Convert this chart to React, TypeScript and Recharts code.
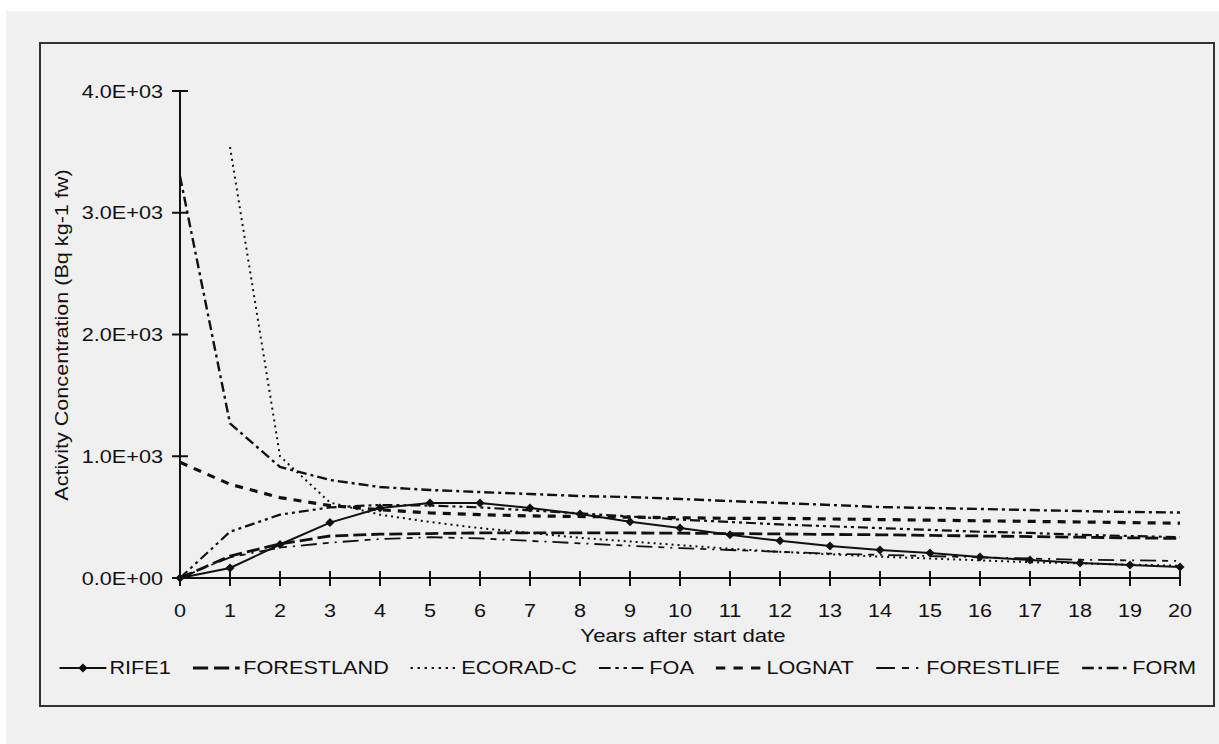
import React from 'react';
import { LineChart, Line, XAxis, YAxis } from 'recharts';

// years after start date
const years = [0, 1, 2, 3, 4, 5, 6, 7, 8, 9, 10, 11, 12, 13, 14, 15, 16, 17, 18, 19, 20];

// activity concentration, Bq kg-1 fw
const rife1 = [0, 82, 275, 455, 575, 616, 616, 575, 526, 462, 410, 355, 305, 263, 230, 205, 172, 148, 123, 107, 90];
const forestland = [0, 180, 280, 345, 360, 365, 370, 370, 370, 370, 368, 365, 362, 358, 355, 350, 345, 340, 335, 330, 325];
const ecoradC = [null, 3540, 1000, 620, 520, 460, 410, 370, 330, 300, 270, 240, 215, 195, 175, 160, 145, 130, 120, 110, 100];
const foa = [0, 380, 520, 580, 600, 595, 580, 555, 530, 505, 480, 460, 440, 425, 410, 395, 380, 370, 355, 345, 335];
const lognat = [950, 770, 660, 595, 560, 535, 520, 510, 505, 500, 495, 490, 490, 485, 480, 475, 470, 465, 460, 455, 450];
const forestlife = [0, 170, 250, 290, 320, 335, 325, 305, 285, 265, 245, 230, 215, 200, 190, 180, 170, 160, 150, 145, 140];
const form = [3300, 1270, 912, 805, 747, 723, 706, 690, 673, 665, 649, 632, 616, 600, 583, 575, 567, 558, 550, 542, 538];

const yTicks = [0, 1000, 2000, 3000, 4000];

const data = years.map((year, i) => ({
  year,
  RIFE1: rife1[i],
  FORESTLAND: forestland[i],
  'ECORAD-C': ecoradC[i],
  FOA: foa[i],
  LOGNAT: lognat[i],
  FORESTLIFE: forestlife[i],
  FORM: form[i],
}));

const INK = '#111';
const FONT = '"Liberation Sans", Arial, sans-serif';
const STRETCH = 1.17; // the source text is drawn a bit wide

const series = [
  { key: 'RIFE1', dash: undefined, width: 2, marker: true },
  { key: 'FORESTLAND', dash: '13 5', width: 2.8 },
  { key: 'ECORAD-C', dash: '2 4', width: 2 },
  { key: 'FOA', dash: '10 4 3 4 3 4', width: 2.2 },
  { key: 'LOGNAT', dash: '8 7', width: 3.2 },
  { key: 'FORESTLIFE', dash: '16 6 6 6 2 6', width: 1.8 },
  { key: 'FORM', dash: '10 4 3 4', width: 2.4 },
];

const fmtExp = (v: number) => {
  const [m, e] = v.toExponential(1).split('e');
  const sign = e[0] === '-' ? '-' : '+';
  const digits = e.replace(/[+-]/, '').padStart(2, '0');
  return `${m}E${sign}${digits}`;
};

const TICK = 8;
const Y_MARGIN = 9;
const X_MARGIN = 4;

const YTick = (props: any) => {
  const { x, y, payload } = props;
  const ax = x + TICK + Y_MARGIN;
  return (
    <g>
      <line x1={ax - TICK} x2={ax + TICK} y1={y} y2={y} stroke={INK} strokeWidth={2} />
      <text
        transform={`translate(${x},${y}) scale(${STRETCH},1)`}
        dy="0.36em"
        textAnchor="end"
        fill={INK}
        fontSize={18.5}
        fontFamily={FONT}
      >
        {fmtExp(payload.value)}
      </text>
    </g>
  );
};

const XTick = (props: any) => {
  const { x, y, payload } = props;
  const ay = y - TICK - X_MARGIN;
  return (
    <g>
      <line x1={x} x2={x} y1={ay - 7} y2={ay + TICK} stroke={INK} strokeWidth={2} />
      <text
        transform={`translate(${x},${ay + 32}) scale(${STRETCH},1)`}
        dy="0.36em"
        textAnchor="middle"
        fill={INK}
        fontSize={18.5}
        fontFamily={FONT}
      >
        {payload.value}
      </text>
    </g>
  );
};

const Diamond = (props: any) => {
  const { cx, cy, index } = props;
  if (cx == null || cy == null) return <g key={index} />;
  return <path key={index} d={`M${cx},${cy - 4.5}L${cx + 4.5},${cy}L${cx},${cy + 4.5}L${cx - 4.5},${cy}Z`} fill={INK} />;
};

const LegendIcon = ({ dash, width, marker }: any) => (
  <svg width={42} height={14} style={{ marginRight: 2 }}>
    <line x1={1} x2={41} y1={7} y2={7} stroke={INK} strokeWidth={width} strokeDasharray={dash} />
    {marker && <path d="M21,2.5L25,7L21,11.5L17,7Z" fill={INK} />}
  </svg>
);

export default function App() {
  return (
    <div style={{ position: 'absolute', left: 0, top: 0, width: 1219, height: 744, background: '#fff', fontFamily: FONT }}>
      <div style={{ position: 'absolute', left: 6, top: 11, right: 0, bottom: 0, background: '#f0f0f0' }} />
      <div
        style={{
          position: 'absolute',
          left: 39,
          top: 42,
          width: 1172,
          height: 661,
          border: '2px solid #333',
        }}
      />
      <div style={{ position: 'absolute', left: 0, top: 0 }}>
        <LineChart width={1219} height={744} data={data} margin={{ top: 91, right: 39, bottom: 136, left: 50 }}>
          <XAxis
            dataKey="year"
            type="number"
            domain={[0, 20]}
            ticks={years}
            interval={0}
            height={30}
            tickSize={TICK}
            tickMargin={X_MARGIN}
            tickLine={false}
            axisLine={{ stroke: INK, strokeWidth: 2 }}
            tick={<XTick />}
          />
          <XAxis
            xAxisId="top"
            orientation="top"
            dataKey="year"
            type="number"
            domain={[0, 20]}
            height={0}
            tick={false}
            tickLine={false}
            axisLine={{ stroke: INK, strokeWidth: 2 }}
          />
          <YAxis
            type="number"
            domain={[0, 4000]}
            ticks={yTicks}
            interval={0}
            width={130}
            tickSize={TICK}
            tickMargin={Y_MARGIN}
            tickLine={false}
            axisLine={{ stroke: INK, strokeWidth: 2 }}
            tick={<YTick />}
          />
          <YAxis
            yAxisId="right"
            orientation="right"
            type="number"
            domain={[0, 4000]}
            width={0}
            tick={false}
            tickLine={false}
            axisLine={{ stroke: INK, strokeWidth: 2 }}
          />
          {series.map((s) => (
            <Line
              key={s.key}
              type="linear"
              dataKey={s.key}
              stroke={INK}
              strokeWidth={s.width}
              strokeDasharray={s.dash}
              dot={s.marker ? <Diamond /> : false}
              activeDot={false}
              isAnimationActive={false}
            />
          ))}
        </LineChart>
      </div>
      <div
        style={{
          position: 'absolute',
          left: 62,
          top: 335,
          transform: `translate(-50%, -50%) rotate(-90deg) scaleX(${STRETCH + 0.03})`,
          whiteSpace: 'nowrap',
          fontSize: 18,
          color: INK,
        }}
      >
        Activity Concentration (Bq kg-1 fw)
      </div>
      <div
        style={{
          position: 'absolute',
          left: 683,
          top: 636,
          transform: `translate(-50%, -50%) scaleX(${STRETCH + 0.03})`,
          whiteSpace: 'nowrap',
          fontSize: 18.5,
          color: INK,
        }}
      >
        Years after start date
      </div>
      <div
        style={{
          position: 'absolute',
          left: 41,
          width: 1172,
          top: 656,
          height: 24,
          display: 'flex',
          justifyContent: 'center',
          alignItems: 'center',
          fontSize: 18.5,
          color: INK,
          transform: `scaleX(${STRETCH})`,
          transformOrigin: '586px 12px',
        }}
      >
        {series.map((s, i) => (
          <div
            key={s.key}
            style={{ display: 'flex', alignItems: 'center', marginRight: i === series.length - 1 ? 0 : 18 }}
          >
            <LegendIcon dash={s.dash} width={s.width} marker={s.marker} />
            <span>{s.key}</span>
          </div>
        ))}
      </div>
    </div>
  );
}
